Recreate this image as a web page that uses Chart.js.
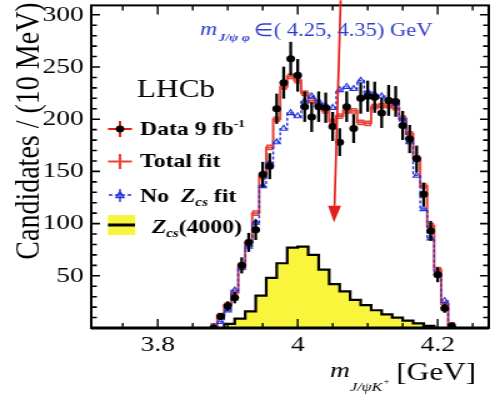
<!DOCTYPE html>
<html>
<head>
<meta charset="utf-8">
<script src="https://cdn.jsdelivr.net/npm/chart.js@4.4.1/dist/chart.umd.min.js"></script>
<style>
  html, body { margin: 0; padding: 0; background: #fff; overflow: hidden; }
  /* the reference figure is stretched sideways, so the chart is too */
  #wrap { width: 400px; height: 396px; transform: scaleX(1.25); transform-origin: 0 0; }
</style>
</head>
<body>
<div id="wrap"><canvas id="chart" width="400" height="396"></canvas></div>
<script>
// --- Data (10 MeV bins, centres in GeV) ---
const massBins = [3.88, 3.89, 3.90, 3.91, 3.92, 3.93, 3.94, 3.95, 3.96, 3.97, 3.98, 3.99,
                  4.00, 4.01, 4.02, 4.03, 4.04, 4.05, 4.06, 4.07, 4.08, 4.09, 4.10, 4.11,
                  4.12, 4.13, 4.14, 4.15, 4.16, 4.17, 4.18, 4.19, 4.20, 4.21, 4.22];
const dataCounts = [0, 11, 21, 29, 60, 82, 94, 147, 155, 210, 235, 258,
                    242, 212, 202, 212, 211, 193, 178, 212, 191, 220, 222, 221,
                    206, 218, 217, 194, 181, 162, 128, 93, 51, 19, 2];
const dataErr = [0, 3.3, 4.6, 5.4, 7.7, 9.1, 9.7, 12.1, 12.4, 14.5, 15.3, 16.1,
                 15.6, 14.6, 14.2, 14.6, 14.5, 13.9, 13.3, 14.6, 13.8, 14.8, 14.9, 14.9,
                 14.4, 14.8, 14.7, 13.9, 13.5, 12.7, 11.3, 9.6, 7.1, 4.4, 1.4];
const totalFit = [2, 12, 22, 34, 58, 82, 110, 145, 173, 200, 231, 241,
                  237, 225, 218, 213, 208, 198, 203, 208, 208, 197, 196, 212,
                  213, 213, 211, 201, 186, 163, 136, 98, 56, 23, 3];
const noZcsFit = [1, 6, 17, 36, 58, 78, 101, 136, 158, 178, 191, 206,
                  203, 217, 222, 217, 213, 211, 228, 231, 229, 237, 226, 224,
                  222, 219, 215, 200, 178, 146, 114, 86, 53, 26, 2];

// Zcs(4000) component, 15 MeV bins
const zcsEdges = [3.895, 3.910, 3.925, 3.940, 3.955, 3.970, 3.985, 4.000, 4.015, 4.030, 4.045,
                  4.060, 4.075, 4.090, 4.105, 4.120, 4.135, 4.150, 4.165, 4.180, 4.195];
const zcsHeights = [4, 9, 16, 31, 48, 62, 77, 78, 70, 56, 42,
                    35, 27, 22, 17, 13, 10, 7, 4.5, 2];

const xTickValues = [3.8, 4.0, 4.2];
const yTickValues = [50, 100, 150, 200, 250, 300];

const X_MIN = 3.705, X_MAX = 4.273;
const Y_MIN = 0, Y_MAX = 309;

const SERIF = "'Liberation Serif', 'Times New Roman', serif";
const RED = '#e6463a';
const BLUE = '#2233dd';
const YELLOW = '#f8f53c';

// --- Helpers ---
const toPoints = (values) => massBins.map((m, i) => ({ x: m, y: values[i] }));

const zcsPoints = [{ x: zcsEdges[0], y: 0 }];
zcsHeights.forEach((h, i) => zcsPoints.push({ x: zcsEdges[i], y: h }));
zcsPoints.push({ x: zcsEdges[zcsEdges.length - 1], y: zcsHeights[zcsHeights.length - 1] });
zcsPoints.push({ x: zcsEdges[zcsEdges.length - 1], y: 0 });

// draw a row of text pieces (for sub/superscripts)
const drawRuns = (ctx, x, y, runs) => {
    runs.forEach(r => {
        ctx.font = r.font;
        ctx.fillText(r.text, x + (r.dx || 0), y + (r.dy || 0));
        x += (r.dx || 0) + ctx.measureText(r.text).width;
    });
    return x;
};

// no extra room for labels sticking out past the axis ends
const noPadding = (s) => { s.paddingTop = 0; s.paddingBottom = 0; s.paddingLeft = 0; s.paddingRight = 0; };

// --- Frame, ticks, error bars, legend and labels ---
const overlay = {
    id: 'overlay',
    afterDatasetsDraw(chart) {
        const { ctx, scales: { x, y } } = chart;
        ctx.save();
        ctx.strokeStyle = '#000';
        ctx.lineWidth = 2.3;
        massBins.forEach((m, i) => {
            if (dataErr[i] <= 0) return;
            const px = x.getPixelForValue(m);
            ctx.beginPath();
            ctx.moveTo(px, y.getPixelForValue(Math.max(0, dataCounts[i] - dataErr[i])));
            ctx.lineTo(px, y.getPixelForValue(dataCounts[i] + dataErr[i]));
            ctx.stroke();
        });
        ctx.restore();
    },
    afterDraw(chart) {
        const { ctx, chartArea: a, scales: { x, y } } = chart;
        ctx.save();

        // frame
        ctx.strokeStyle = '#000';
        ctx.lineWidth = 2;
        ctx.strokeRect(a.left, a.top, a.right - a.left, a.bottom - a.top);
        ctx.lineWidth = 3;
        ctx.beginPath();
        ctx.moveTo(a.left, a.bottom);
        ctx.lineTo(a.right, a.bottom);
        ctx.stroke();

        // y ticks, every 10
        ctx.lineWidth = 1.6;
        for (let v = 10; v <= Y_MAX; v += 10) {
            const py = y.getPixelForValue(v);
            const len = v % 50 === 0 ? 7 : 4.5;
            ctx.beginPath();
            ctx.moveTo(a.left, py); ctx.lineTo(a.left + len, py);
            ctx.moveTo(a.right, py); ctx.lineTo(a.right - len, py);
            ctx.stroke();
        }
        // x ticks, every 0.05
        ctx.lineWidth = 1.4;
        for (let k = Math.ceil(X_MIN * 20); k <= Math.floor(X_MAX * 20); k++) {
            const px = x.getPixelForValue(k / 20);
            const len = k % 4 === 0 ? 9 : 5;
            ctx.beginPath();
            ctx.moveTo(px, a.bottom); ctx.lineTo(px, a.bottom - len);
            ctx.moveTo(px, a.top); ctx.lineTo(px, a.top + len);
            ctx.stroke();
        }

        // red arrow
        const ax0 = x.getPixelForValue(4.0614), ay0 = y.getPixelForValue(314);
        const ax1 = x.getPixelForValue(4.0519), ay1 = y.getPixelForValue(101);
        const ayBase = y.getPixelForValue(117);
        const axBase = ax0 + (ax1 - ax0) * (ayBase - ay0) / (ay1 - ay0);
        ctx.strokeStyle = '#e3201b';
        ctx.fillStyle = '#e3201b';
        ctx.lineWidth = 1.7;
        ctx.beginPath();
        ctx.moveTo(ax0, ay0); ctx.lineTo(axBase, ayBase);
        ctx.stroke();
        ctx.beginPath();
        ctx.moveTo(axBase - 5.2, ayBase);
        ctx.lineTo(axBase + 5.2, ayBase);
        ctx.lineTo(ax1, ay1);
        ctx.closePath();
        ctx.fill();

        // mass window text
        ctx.fillStyle = '#2f3fcc';
        ctx.textBaseline = 'alphabetic';
        ctx.textAlign = 'left';
        drawRuns(ctx, 160, 35, [
            { text: 'm', font: `italic 19px ${SERIF}` },
            { text: 'J/ψ φ', font: `italic bold 11px ${SERIF}`, dy: 6, dx: 1 }
        ]);
        ctx.font = `18px ${SERIF}`;
        ctx.fillText('∈( 4.25, 4.35) GeV', 203, 36);

        // LHCb
        ctx.fillStyle = '#000';
        ctx.font = `25px ${SERIF}`;
        ctx.fillText('LHCb', 109.6, 97);

        // legend entries
        const mx = 96;
        // data
        ctx.lineWidth = 2;
        ctx.beginPath();
        ctx.moveTo(86.4, 129); ctx.lineTo(105.6, 129);
        ctx.moveTo(mx, 121); ctx.lineTo(mx, 137);
        ctx.stroke();
        ctx.beginPath(); ctx.arc(mx, 129, 3.4, 0, Math.PI * 2); ctx.fill();
        drawRuns(ctx, 112, 135, [
            { text: 'Data 9 fb', font: `bold 19px ${SERIF}` },
            { text: '-1', font: `bold 11px ${SERIF}`, dy: -8 }
        ]);
        // total fit
        ctx.strokeStyle = RED;
        ctx.lineWidth = 2.2;
        ctx.beginPath();
        ctx.moveTo(86.4, 161.5); ctx.lineTo(105.6, 161.5);
        ctx.moveTo(mx, 154); ctx.lineTo(mx, 169);
        ctx.stroke();
        ctx.fillStyle = '#000';
        ctx.font = `bold 19px ${SERIF}`;
        ctx.fillText('Total fit', 112, 167);
        // no Zcs fit
        ctx.strokeStyle = BLUE;
        ctx.lineWidth = 1.4;
        ctx.setLineDash([3, 2]);
        ctx.beginPath();
        ctx.moveTo(87, 195); ctx.lineTo(106, 195);
        ctx.stroke();
        ctx.setLineDash([]);
        ctx.beginPath();
        ctx.moveTo(mx - 3, 197.5); ctx.lineTo(mx + 3, 197.5); ctx.lineTo(mx, 191.5); ctx.closePath();
        ctx.moveTo(mx, 189); ctx.lineTo(mx, 202);
        ctx.stroke();
        ctx.fillStyle = '#000';
        drawRuns(ctx, 112, 201.5, [
            { text: 'No  ', font: `bold 19px ${SERIF}` },
            { text: 'Z', font: `italic bold 19px ${SERIF}` },
            { text: 'cs', font: `italic bold 12px ${SERIF}`, dy: 4 },
            { text: ' fit', font: `bold 19px ${SERIF}` }
        ]);
        // Zcs(4000)
        ctx.fillStyle = YELLOW;
        ctx.fillRect(86.4, 215, 21.6, 20);
        ctx.strokeStyle = '#000';
        ctx.lineWidth = 3;
        ctx.beginPath();
        ctx.moveTo(86.4, 225); ctx.lineTo(108, 225);
        ctx.stroke();
        ctx.fillStyle = '#000';
        drawRuns(ctx, 121.4, 233, [
            { text: 'Z', font: `italic bold 19px ${SERIF}` },
            { text: 'cs', font: `italic bold 12px ${SERIF}`, dy: 4 },
            { text: '(4000)', font: `bold 19px ${SERIF}` }
        ]);

        // x axis title
        drawRuns(ctx, 264, 377, [
            { text: 'm', font: `italic 22px ${SERIF}` },
            { text: 'J/ψK', font: `italic 13px ${SERIF}`, dy: 14 },
            { text: '+', font: `italic 9px ${SERIF}`, dy: 7 }
        ]);
        ctx.font = `25px ${SERIF}`;
        ctx.fillText('[GeV]', 317, 380);

        // y axis title
        ctx.save();
        ctx.translate(30.5, 131);
        ctx.rotate(-Math.PI / 2);
        ctx.textAlign = 'center';
        ctx.font = `28px ${SERIF}`;
        ctx.fillText('Candidates / (10 MeV)', 0, 0);
        ctx.restore();

        ctx.restore();
    }
};

new Chart(document.getElementById('chart'), {
    type: 'line',
    data: {
        datasets: [
            {
                label: 'Data 9 fb-1',
                data: toPoints(dataCounts),
                showLine: false,
                pointRadius: 3.5,
                pointBackgroundColor: '#000',
                pointBorderWidth: 0,
                order: 0
            },
            {
                label: 'No Zcs fit',
                data: toPoints(noZcsFit),
                stepped: 'middle',
                borderColor: BLUE,
                borderWidth: 1.4,
                borderDash: [3, 2],
                pointStyle: 'triangle',
                pointRadius: 3.3,
                pointBorderColor: BLUE,
                pointBackgroundColor: 'rgba(0,0,0,0)',
                pointBorderWidth: 1.1,
                fill: false,
                order: 1
            },
            {
                label: 'Total fit',
                data: toPoints(totalFit),
                stepped: 'middle',
                borderColor: RED,
                borderWidth: 2,
                pointStyle: 'rect',
                pointRadius: 3,
                pointBorderColor: RED,
                pointBackgroundColor: 'rgba(0,0,0,0)',
                pointBorderWidth: 1.4,
                fill: false,
                order: 2
            },
            {
                label: 'Zcs(4000)',
                data: zcsPoints,
                stepped: 'before',
                borderColor: '#000',
                borderWidth: 2.2,
                backgroundColor: YELLOW,
                fill: 'origin',
                pointRadius: 0,
                order: 3
            }
        ]
    },
    options: {
        responsive: false,
        animation: false,
        events: [],
        layout: { padding: { top: 5, right: 9, left: 0, bottom: 0 } },
        plugins: { legend: { display: false }, tooltip: { enabled: false } },
        scales: {
            x: {
                type: 'linear',
                min: X_MIN,
                max: X_MAX,
                grid: { display: false, drawTicks: false },
                border: { display: false },
                afterBuildTicks: (s) => { s.ticks = xTickValues.map(v => ({ value: v })); },
                afterFit: (s) => { s.height = 68; noPadding(s); },
                ticks: {
                    color: '#000',
                    font: { family: SERIF, size: 22 },
                    padding: 4,
                    maxRotation: 0,
                    autoSkip: false,
                    callback: (v) => String(v)
                }
            },
            y: {
                min: Y_MIN,
                max: Y_MAX,
                grid: { display: false, drawTicks: false },
                border: { display: false },
                afterBuildTicks: (s) => { s.ticks = yTickValues.map(v => ({ value: v })); },
                afterFit: (s) => { s.width = 73; noPadding(s); },
                ticks: {
                    color: '#000',
                    font: { family: SERIF, size: 22 },
                    padding: 6,
                    callback: (v) => String(v)
                }
            }
        }
    },
    plugins: [overlay]
});
</script>
</body>
</html>
